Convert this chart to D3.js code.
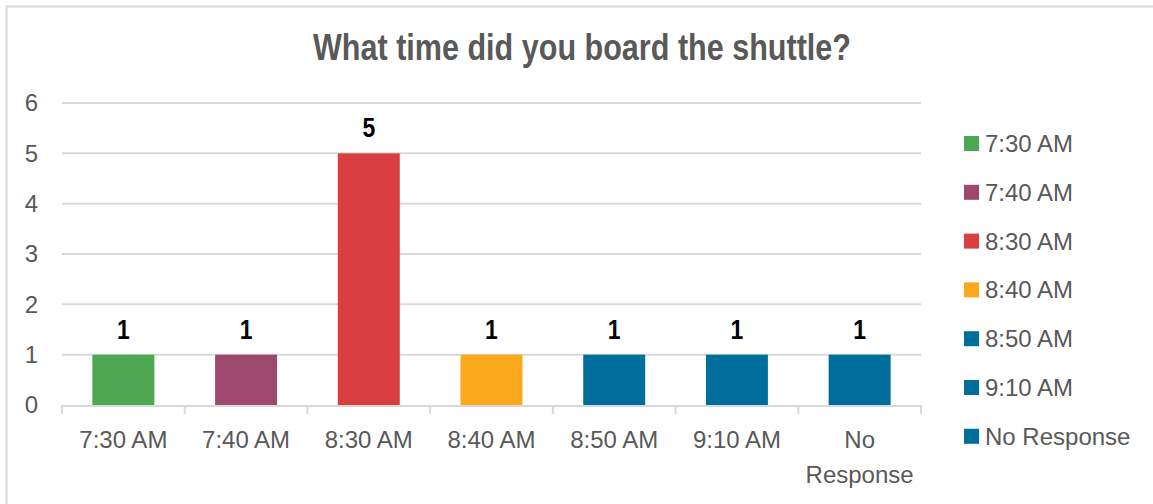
<!DOCTYPE html>
<html>
<head>
<meta charset="utf-8">
<script src="https://cdn.jsdelivr.net/npm/d3@7"></script>
<style>
  html, body { margin: 0; padding: 0; background: #fff; }
  svg { display: block; }
</style>
</head>
<body>
<svg id="chart" width="1153" height="504"></svg>
<script>
// Boarding times and respondent counts
const categories = ["7:30 AM", "7:40 AM", "8:30 AM", "8:40 AM", "8:50 AM", "9:10 AM", "No Response"];
const counts = [1, 1, 5, 1, 1, 1, 1];
const colors = ["#4EA752", "#9E486E", "#D93F3F", "#F9A91B", "#006E9C", "#006E9C", "#006E9C"];
const yTicks = [0, 1, 2, 3, 4, 5, 6];
const titleText = "What time did you board the shuttle?";

const svg = d3.select("#chart");
const W = 1153, H = 504;
const plot = { left: 62, right: 921, top: 103, bottom: 405 };
const textGrey = "#595959";
const gridGrey = "#d9d9d9";
const baseFont = "'Liberation Sans', Arial, sans-serif";

// Chart frame
svg.append("rect")
  .attr("x", 6.5).attr("y", 6.5)
  .attr("width", W + 20).attr("height", H + 20)
  .attr("fill", "#fff").attr("stroke", gridGrey).attr("stroke-width", 2);

// Title (condensed bold)
svg.append("text")
  .attr("x", 313).attr("y", 60)
  .attr("font-family", baseFont)
  .attr("font-weight", "bold")
  .attr("font-size", 36)
  .attr("fill", textGrey)
  .attr("textLength", 538)
  .attr("lengthAdjust", "spacingAndGlyphs")
  .text(titleText);

const x = d3.scaleBand().domain(categories).range([plot.left, plot.right]).paddingInner(0.495).paddingOuter(0.2475);
const y = d3.scaleLinear().domain([0, 6]).range([plot.bottom, plot.top]);

// Horizontal gridlines
svg.append("g")
  .selectAll("line")
  .data(yTicks.filter(d => d > 0))
  .join("line")
  .attr("x1", plot.left).attr("x2", plot.right)
  .attr("y1", d => y(d)).attr("y2", d => y(d))
  .attr("stroke", gridGrey).attr("stroke-width", 2);

// Y axis labels
const yAxis = svg.append("g")
  .attr("transform", `translate(${plot.left},0)`)
  .call(d3.axisLeft(y).tickValues(yTicks).tickSize(0).tickPadding(24).tickFormat(d3.format("d")));
yAxis.select(".domain").remove();
yAxis.selectAll("text")
  .attr("font-family", baseFont).attr("font-size", 24).attr("fill", textGrey);

// Bars
svg.append("g")
  .selectAll("rect")
  .data(categories)
  .join("rect")
  .attr("x", d => x(d))
  .attr("width", x.bandwidth())
  .attr("y", (d, i) => y(counts[i]))
  .attr("height", (d, i) => y(0) - y(counts[i]))
  .attr("fill", (d, i) => colors[i]);

// Value labels (condensed bold)
svg.append("g")
  .selectAll("text")
  .data(categories)
  .join("text")
  .attr("transform", (d, i) => `translate(${x(d) + x.bandwidth() / 2},${y(counts[i]) - 16}) scale(0.85,1)`)
  .attr("text-anchor", "middle")
  .attr("font-family", baseFont)
  .attr("font-weight", "bold")
  .attr("font-size", 27)
  .attr("fill", "#000")
  .text((d, i) => counts[i]);

// X axis line with category dividers
const xAxisG = svg.append("g");
xAxisG.append("line")
  .attr("x1", plot.left).attr("x2", plot.right)
  .attr("y1", y(0) + 1).attr("y2", y(0) + 1)
  .attr("stroke", gridGrey).attr("stroke-width", 2);
xAxisG.selectAll("line.div")
  .data(d3.range(categories.length + 1))
  .join("line")
  .attr("class", "div")
  .attr("x1", i => plot.left + i * (plot.right - plot.left) / categories.length)
  .attr("x2", i => plot.left + i * (plot.right - plot.left) / categories.length)
  .attr("y1", y(0)).attr("y2", y(0) + 9)
  .attr("stroke", gridGrey).attr("stroke-width", 2);

// Category labels (wrapped on space for long labels)
const xLabels = svg.append("g")
  .selectAll("text")
  .data(categories)
  .join("text")
  .attr("x", d => x(d) + x.bandwidth() / 2)
  .attr("y", 448)
  .attr("text-anchor", "middle")
  .attr("font-family", baseFont)
  .attr("font-size", 24)
  .attr("fill", textGrey);
xLabels.each(function(d) {
  const t = d3.select(this);
  const lines = d === "No Response" ? ["No", "Response"] : [d];
  lines.forEach((ln, k) => {
    t.append("tspan")
      .attr("x", x(d) + x.bandwidth() / 2)
      .attr("dy", k === 0 ? 0 : 35)
      .text(ln);
  });
});

// Legend
const legend = svg.append("g")
  .selectAll("g")
  .data(categories)
  .join("g")
  .attr("transform", (d, i) => `translate(964, ${143 + i * 48.8})`);
legend.append("rect")
  .attr("x", 0).attr("y", -7)
  .attr("width", 15).attr("height", 15)
  .attr("fill", (d, i) => colors[i]);
legend.append("text")
  .attr("x", 21).attr("y", 9)
  .attr("font-family", baseFont)
  .attr("font-size", 24)
  .attr("fill", textGrey)
  .text(d => d);
</script>
</body>
</html>
